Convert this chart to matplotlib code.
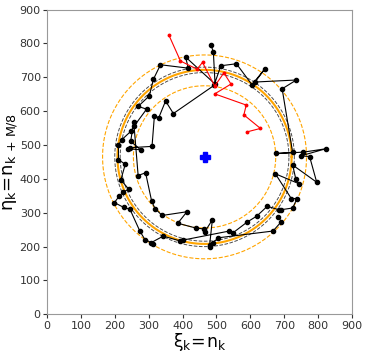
import numpy as np
import matplotlib.pyplot as plt

# black trajectory (xi, eta)
black_x = [484, 491, 496, 409, 417, 335, 314, 302, 269, 294, 258, 247, 220, 211, 211, 231, 218, 241, 224, 213,
           199, 226, 245, 274, 289, 314, 308, 343, 392, 400, 538, 548, 590, 619, 650, 684, 691, 725, 738, 721,
           674, 743, 734, 725, 796, 775, 749, 823, 757, 677, 725, 694, 736, 614, 643, 605, 559, 513, 493,
           373, 350, 330, 317, 310, 245, 239, 276, 247, 256, 269, 291, 309, 319, 340, 413, 386, 439, 464, 465,
           488, 480, 481, 490, 505, 667, 692, 681]
black_y = [795, 775, 680, 760, 727, 737, 694, 645, 614, 606, 557, 540, 515, 500, 457, 443, 397, 370, 360, 349,
           330, 316, 310, 246, 221, 209, 212, 231, 217, 219, 246, 240, 272, 290, 319, 309, 309, 314, 342, 342,
           415, 386, 401, 441, 390, 466, 468, 489, 479, 475, 478, 666, 692, 686, 725, 678, 740, 734, 676,
           593, 630, 581, 586, 496, 492, 489, 486, 511, 569, 410, 418, 334, 312, 292, 303, 269, 255, 252, 243,
           279, 204, 199, 211, 226, 246, 274, 288]

# red trajectory
red_x = [360, 394, 443, 459, 495, 522, 543, 495, 588, 581, 630, 591]
red_y = [824, 748, 724, 744, 674, 713, 680, 651, 618, 589, 549, 539]

center = (465, 465)
r_mean = 257
r_in, r_out = 210, 301
r_band = [249, 265]

fig = plt.figure(figsize=(3.67, 3.54), dpi=100)
ax = fig.add_axes([0.128, 0.112, 0.831, 0.861])

t = np.linspace(0, 2 * np.pi, 400)
for r in r_band:
    ax.plot(center[0] + r * np.cos(t), center[1] + r * np.sin(t), '--', color='black', lw=0.7, alpha=0.7)
ax.plot(center[0] + r_mean * np.cos(t), center[1] + r_mean * np.sin(t), '-', color='orange', lw=1.5)
for r in (r_in, r_out):
    ax.plot(center[0] + r * np.cos(t), center[1] + r * np.sin(t), '--', color='orange', lw=0.8)

ax.plot(black_x, black_y, '-o', color='black', lw=0.8, ms=3)
ax.plot(red_x, red_y, '-o', color='red', lw=0.8, ms=1.8)
ax.plot(center[0], center[1], 'P', color='blue', ms=7)

ax.set_xlim(0, 900)
ax.set_ylim(0, 900)
ax.set_xticks(range(0, 901, 100))
ax.set_yticks(range(0, 901, 100))
ax.tick_params(labelsize=8, colors='#333333', length=3, pad=1.5)
for s in ax.spines.values():
    s.set_color('#999999')
ax.set_xlabel(r'$\mathregular{\xi_k\!=\!n_k}$', fontsize=12.5, labelpad=0)
ax.set_ylabel(r'$\mathregular{\eta_k\!=\!n_{k\,+\,M/8}}$', fontsize=13, labelpad=0)

fig.savefig('out.png', dpi=100)
